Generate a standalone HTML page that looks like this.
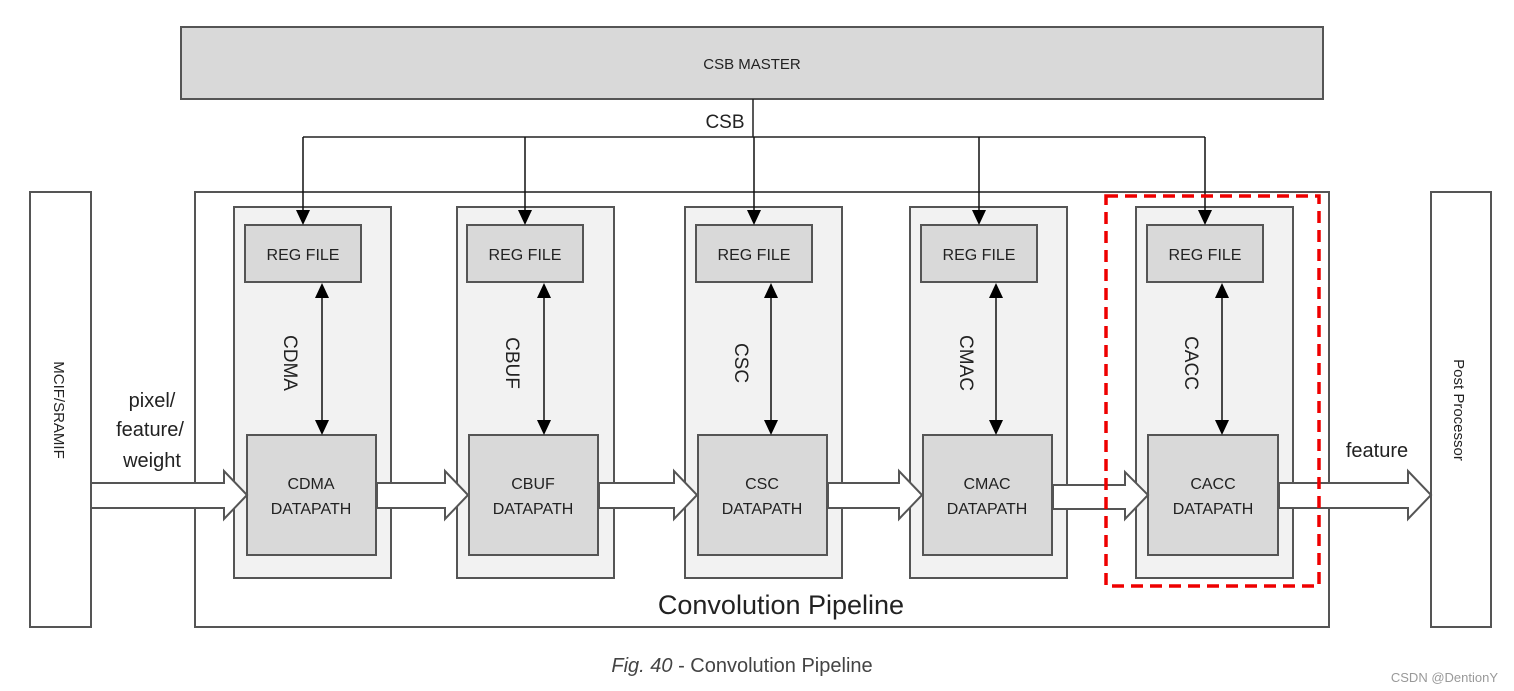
<!DOCTYPE html><html><head><style>body{margin:0;background:#fff}svg{display:block}text{font-family:"Liberation Sans",sans-serif;fill:#222}</style></head><body>
<svg width="1514" height="691" viewBox="0 0 1514 691">
<rect x="181" y="27" width="1142" height="72" fill="#d9d9d9" stroke="#555" stroke-width="2"/>
<text x="752" y="69" font-size="15" text-anchor="middle">CSB MASTER</text>
<rect x="30" y="192" width="61" height="435" fill="#fff" stroke="#555" stroke-width="2"/>
<rect x="195" y="192" width="1134" height="435" fill="#fff" stroke="#555" stroke-width="2"/>
<rect x="1431" y="192" width="60" height="435" fill="#fff" stroke="#555" stroke-width="2"/>
<text transform="translate(54,410) rotate(90)" font-size="15" text-anchor="middle">MCIF/SRAMIF</text>
<text transform="translate(1454,410) rotate(90)" font-size="15" text-anchor="middle">Post Processor</text>
<path d="M303,137H1205M753,99V137" stroke="#222" stroke-width="1.5" fill="none"/>
<text x="725" y="128" font-size="19" text-anchor="middle">CSB</text>
<g stroke="#555" stroke-width="2">
<rect x="234" y="207" width="157" height="371" fill="#f2f2f2"/><rect x="457" y="207" width="157" height="371" fill="#f2f2f2"/><rect x="685" y="207" width="157" height="371" fill="#f2f2f2"/><rect x="910" y="207" width="157" height="371" fill="#f2f2f2"/><rect x="1136" y="207" width="157" height="371" fill="#f2f2f2"/>
<rect x="245" y="225" width="116" height="57" fill="#d9d9d9"/><rect x="467" y="225" width="116" height="57" fill="#d9d9d9"/><rect x="696" y="225" width="116" height="57" fill="#d9d9d9"/><rect x="921" y="225" width="116" height="57" fill="#d9d9d9"/><rect x="1147" y="225" width="116" height="57" fill="#d9d9d9"/>
<rect x="247" y="435" width="129" height="120" fill="#d9d9d9"/><rect x="469" y="435" width="129" height="120" fill="#d9d9d9"/><rect x="698" y="435" width="129" height="120" fill="#d9d9d9"/><rect x="923" y="435" width="129" height="120" fill="#d9d9d9"/><rect x="1148" y="435" width="130" height="120" fill="#d9d9d9"/>
</g>
<g font-size="16" text-anchor="middle">
<text x="303" y="260">REG FILE</text><text x="525" y="260">REG FILE</text><text x="754" y="260">REG FILE</text><text x="979" y="260">REG FILE</text><text x="1205" y="260">REG FILE</text>
<text x="311" y="489">CDMA</text><text x="311" y="514">DATAPATH</text>
<text x="533" y="489">CBUF</text><text x="533" y="514">DATAPATH</text>
<text x="762" y="489">CSC</text><text x="762" y="514">DATAPATH</text>
<text x="987" y="489">CMAC</text><text x="987" y="514">DATAPATH</text>
<text x="1213" y="489">CACC</text><text x="1213" y="514">DATAPATH</text>
</g>
<g font-size="19" text-anchor="middle">
<text transform="translate(284,363) rotate(90)">CDMA</text><text transform="translate(506,363) rotate(90)">CBUF</text><text transform="translate(735,363) rotate(90)">CSC</text><text transform="translate(960,363) rotate(90)">CMAC</text><text transform="translate(1185,363) rotate(90)">CACC</text>
</g>
<g stroke="#111" stroke-width="1.5" fill="none">
<path d="M303,137V212M525,137V212M754,137V212M979,137V212M1205,137V212"/>
<path d="M322,296V422M544,296V422M771,296V422M996,296V422M1222,296V422"/>
</g>
<g fill="#000">
<path d="M296,210h14l-7,15z"/><path d="M518,210h14l-7,15z"/><path d="M747,210h14l-7,15z"/><path d="M972,210h14l-7,15z"/><path d="M1198,210h14l-7,15z"/>
<path d="M315,298h14l-7,-15z"/><path d="M537,298h14l-7,-15z"/><path d="M764,298h14l-7,-15z"/><path d="M989,298h14l-7,-15z"/><path d="M1215,298h14l-7,-15z"/>
<path d="M315,420h14l-7,15z"/><path d="M537,420h14l-7,15z"/><path d="M764,420h14l-7,15z"/><path d="M989,420h14l-7,15z"/><path d="M1215,420h14l-7,15z"/>
</g>
<g fill="#fff" stroke="#555" stroke-width="2">
<path d="M91,483H224V471L247,495L224,519V508H91Z"/>
<path d="M377,483H445V471L468,495L445,519V508H377Z"/>
<path d="M599,483H674V471L697,495L674,519V508H599Z"/>
<path d="M828,483H899V471L922,495L899,519V508H828Z"/>
<path d="M1053,485H1125V472L1148,495L1125,519V509H1053Z"/>
<path d="M1279,483H1408V471L1431,495L1408,519V508H1279Z"/>
</g>
<g font-size="20" text-anchor="middle"><text x="152" y="407">pixel/</text><text x="150" y="436">feature/</text><text x="152" y="467">weight</text><text x="1377" y="457">feature</text></g>
<rect x="1106" y="196" width="213" height="390" fill="none" stroke="#e00" stroke-width="3.5" stroke-dasharray="12,7"/>
<text x="781" y="614" font-size="27" text-anchor="middle">Convolution Pipeline</text>
<text x="742" y="672" font-size="20" text-anchor="middle" style="fill:#444"><tspan font-style="italic">Fig. 40</tspan> - Convolution Pipeline</text>
<text x="1498" y="682" font-size="13" text-anchor="end" style="fill:#999">CSDN @DentionY</text>
</svg></body></html>
